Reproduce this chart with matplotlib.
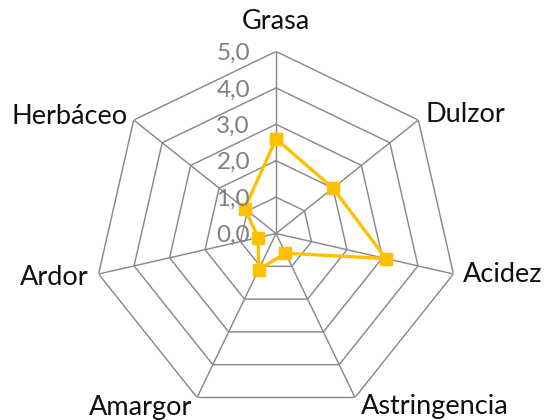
import numpy as np
import matplotlib
matplotlib.use('Agg')
import matplotlib.pyplot as plt

plt.rcParams['font.family'] = ['Lato', 'DejaVu Sans']

# Perfil sensorial (escala 0-5)
CATEGORIES = ['Grasa', 'Dulzor', 'Acidez', 'Astringencia', 'Amargor', 'Ardor', 'Herbáceo']
VALUES = [2.6, 2.0, 3.1, 0.6, 1.1, 0.5, 1.1]
RING_LEVELS = [1, 2, 3, 4, 5]
TICK_LEVELS = [0, 1, 2, 3, 4, 5]

# label placement relative to each outer vertex (pixels, ha)
LABEL_OFFSETS = [
    ((0, 30), 'center'),
    ((7, 6), 'left'),
    ((9, -1), 'left'),
    ((6, -9), 'left'),
    ((-5, -10), 'right'),
    ((-10, -4), 'right'),
    ((-6, 4), 'right'),
]

GRID_COLOR = '#8a8a8a'
LINE_COLOR = '#FFC000'

n = len(CATEGORIES)
theta = np.linspace(0, 2 * np.pi, n, endpoint=False)
theta_closed = np.append(theta, theta[0])

fig = plt.figure(figsize=(5.45, 4.2), dpi=100)
ax = fig.add_axes([0.1725, 0.0107, 0.6679, 0.8667], projection='polar')
ax.set_theta_offset(np.pi / 2)
ax.set_theta_direction(-1)
ax.set_ylim(0, 5)
ax.grid(False)
ax.set_xticks([])
ax.set_yticks([])
ax.spines['polar'].set_visible(False)
ax.patch.set_visible(False)

# polygon rings and spokes
for r in RING_LEVELS:
    ax.plot(theta_closed, [r] * (n + 1), color=GRID_COLOR, lw=1.05, zorder=1)
for t in theta:
    ax.plot([t, t], [0, 5], color=GRID_COLOR, lw=1.05, zorder=1)

# series
vals = VALUES + VALUES[:1]
ax.plot(theta_closed, vals, color=LINE_COLOR, lw=2.4, marker='s',
        markersize=8.5, markerfacecolor=LINE_COLOR, markeredgecolor=LINE_COLOR,
        zorder=3, clip_on=False)

# radial tick labels
for v in TICK_LEVELS:
    ax.annotate(f'{v:.1f}'.replace('.', ','), xy=(0, v), xytext=(-26, -2),
                textcoords='offset pixels', ha='right', va='center',
                fontsize=17.5, color='#808080', annotation_clip=False)

# category labels
for t, name, (off, ha) in zip(theta, CATEGORIES, LABEL_OFFSETS):
    ax.annotate(name, xy=(t, 5), xytext=off, textcoords='offset pixels',
                ha=ha, va='center', fontsize=19.5, color='#111111',
                annotation_clip=False)

fig.savefig('out.png', dpi=100)
